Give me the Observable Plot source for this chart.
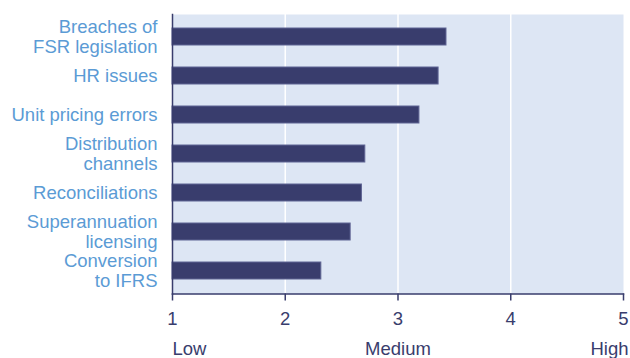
<!DOCTYPE html>
<html>
<head>
<meta charset="utf-8">
<script src="https://cdn.jsdelivr.net/npm/d3@7"></script>
<script src="https://cdn.jsdelivr.net/npm/@observablehq/plot@0.6"></script>
<style>
  html, body { margin: 0; padding: 0; background: #fff; }
  #chart svg { display: block; }
</style>
</head>
<body>
<div id="chart"></div>
<script>
const categories = [
  "Breaches of\nFSR legislation",
  "HR issues",
  "Unit pricing errors",
  "Distribution\nchannels",
  "Reconciliations",
  "Superannuation\nlicensing",
  "Conversion\nto IFRS"
];
const values = [3.43, 3.36, 3.19, 2.71, 2.68, 2.58, 2.32];
const xTicks = [1, 2, 3, 4, 5];
const gridTicks = [2, 3, 4];
const levelValues = [1, 3, 5];
const levelLabels = ["Low", "Medium", "High"];

const data = categories.map((c, i) => ({category: c, value: values[i]}));
const levels = levelValues.map((v, i) => ({x: v, label: levelLabels[i]}));

const navy = "#393d6d";
const labelBlue = "#5b9bd5";
const bg = "#dde6f4";
const fs = 18.5;

const chart = Plot.plot({
  width: 630,
  height: 358,
  marginTop: 14,
  marginBottom: 64.5,
  marginLeft: 172,
  marginRight: 7,
  style: {fontFamily: "'Liberation Sans', Arial, Helvetica, sans-serif", fontSize: fs + "px", background: "#fff"},
  x: {domain: [1, 5]},
  y: {domain: categories, paddingInner: 0.575, paddingOuter: 0.2875, axis: null},
  marks: [
    Plot.frame({fill: bg, stroke: null}),
    Plot.ruleX(gridTicks, {stroke: "#ffffff", strokeWidth: 1.5}),
    Plot.barX(data, {x1: 1, x2: "value", y: "category", fill: navy, stroke: "#5f6493", strokeWidth: 1}),
    Plot.frame({anchor: "left", stroke: navy, strokeWidth: 1.5}),
    Plot.frame({anchor: "bottom", stroke: navy, strokeWidth: 1.5}),
    Plot.axisX(xTicks, {tickSize: 7, tickPadding: 11, stroke: navy, fill: navy, fontSize: fs, strokeWidth: 1.5}),
    Plot.text(data, {y: "category", text: "category", frameAnchor: "left", textAnchor: "end", dx: -15, lineHeight: 1.06, fill: labelBlue, fontSize: fs}),
    Plot.text(levels.filter(d => d.x === 1), {x: "x", text: "label", frameAnchor: "bottom", lineAnchor: "top", dy: 47.5, textAnchor: "start", fill: navy, fontSize: fs}),
    Plot.text(levels.filter(d => d.x === 3), {x: "x", text: "label", frameAnchor: "bottom", lineAnchor: "top", dy: 47.5, textAnchor: "middle", fill: navy, fontSize: fs}),
    Plot.text(levels.filter(d => d.x === 5), {x: "x", text: "label", frameAnchor: "bottom", lineAnchor: "top", dy: 47.5, dx: 5, textAnchor: "end", fill: navy, fontSize: fs})
  ]
});
document.getElementById("chart").appendChild(chart);
</script>
</body>
</html>
